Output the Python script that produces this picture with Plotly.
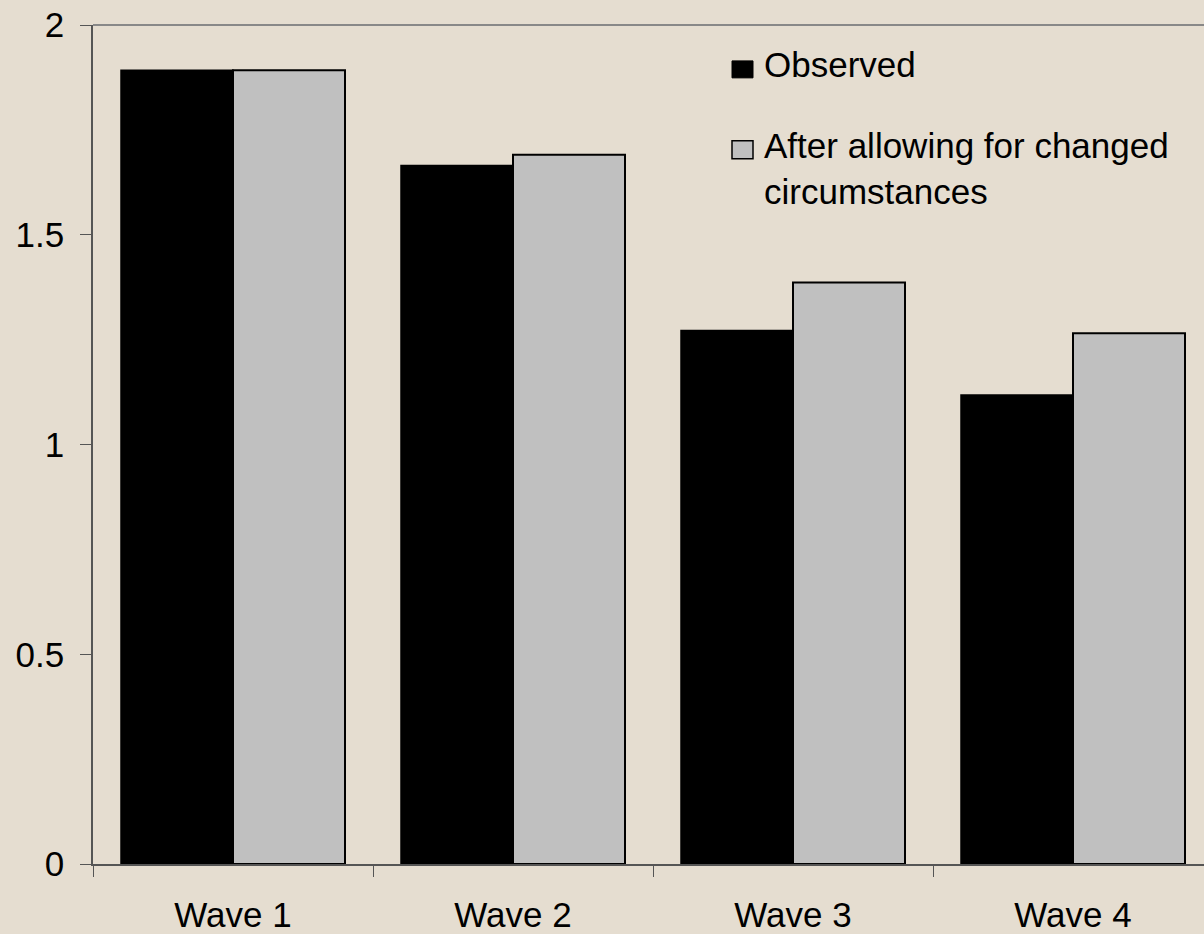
import plotly.graph_objects as go

categories = ["Wave 1", "Wave 2", "Wave 3", "Wave 4"]
observed = [1.892, 1.665, 1.272, 1.118]
adjusted = [1.892, 1.691, 1.386, 1.265]
series_names = ["Observed", "After allowing for changed<br>circumstances"]
y_ticks = [0, 0.5, 1, 1.5, 2]
y_tick_labels = ["0", "0.5", "1", "1.5", "2"]

W, H = 1204, 934
L, R, T, B = 93, 0, 25, 68
FONT = "Arial, Liberation Sans, sans-serif"
BG = "#e5ddd0"
FS = 35


def px_x(px):
    return (px - L) / (W - L - R)


def px_y(py):
    return (H - B - py) / (H - T - B)


fig = go.Figure()
fig.add_trace(go.Bar(x=categories, y=observed, name="Observed",
                     marker=dict(color="#000000", line=dict(color="#000000", width=1.5))))
fig.add_trace(go.Bar(x=categories, y=adjusted, name="After allowing for changed circumstances",
                     marker=dict(color="#c0c0c0", line=dict(color="#000000", width=2))))

fig.update_layout(
    width=W, height=H,
    margin=dict(l=L, r=R, t=T, b=B, pad=0),
    paper_bgcolor=BG, plot_bgcolor=BG,
    barmode="group", bargap=0.2, bargroupgap=0,
    showlegend=False,
    font=dict(family=FONT, size=FS, color="#000000"),
)
fig.update_xaxes(
    range=[-0.5, 3.5 - 9 / 280], showgrid=False, zeroline=False,
    showline=True, linecolor="#555555", linewidth=1.5,
    ticks="outside", tickson="boundaries", ticklen=11, tickcolor="#555555", tickwidth=1,
    ticklabelstandoff=19, tickfont=dict(size=FS),
)
fig.update_yaxes(
    range=[0, 2], showgrid=False, zeroline=False,
    showline=True, linecolor="#555555", linewidth=1.5,
    tickvals=y_ticks, ticktext=y_tick_labels,
    ticks="outside", ticklen=11, tickcolor="#555555", tickwidth=1,
    ticklabelstandoff=9, tickfont=dict(size=FS),
)

# top border of plot area
fig.add_shape(type="line", xref="paper", yref="paper", x0=0, x1=1, y0=1, y1=1,
              line=dict(color="#888888", width=2))

# legend (manual)
fig.add_shape(type="rect", xref="paper", yref="paper",
              x0=px_x(732), x1=px_x(753), y0=px_y(78), y1=px_y(61),
              fillcolor="#000000", line=dict(color="#000000", width=1))
fig.add_shape(type="rect", xref="paper", yref="paper",
              x0=px_x(732), x1=px_x(753), y0=px_y(159), y1=px_y(141),
              fillcolor="#c0c0c0", line=dict(color="#000000", width=1.5))
fig.add_annotation(xref="paper", yref="paper", x=px_x(762), y=px_y(65),
                   text=series_names[0], showarrow=False, xanchor="left", yanchor="middle",
                   font=dict(size=FS))
fig.add_annotation(xref="paper", yref="paper", x=px_x(762), y=px_y(169),
                   text=series_names[1], showarrow=False, xanchor="left", yanchor="middle",
                   align="left", font=dict(size=FS))

fig.write_html("out.html")
